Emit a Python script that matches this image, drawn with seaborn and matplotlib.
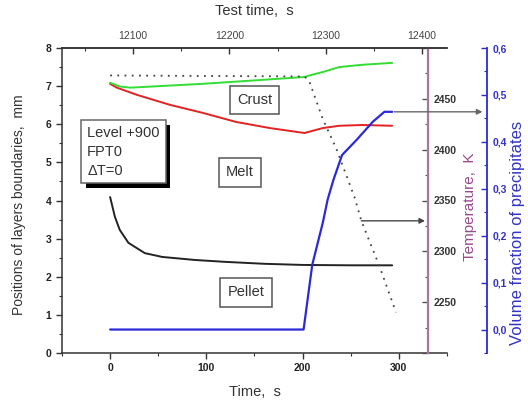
import matplotlib
matplotlib.use("Agg")
import matplotlib.pyplot as plt
import seaborn as sns
from matplotlib import patheffects
from matplotlib.ticker import MultipleLocator, FuncFormatter
from matplotlib.transforms import blended_transform_factory

# Pellet / melt boundary, mm
t_pellet = [0, 5, 10, 19, 36, 54, 88, 120, 160, 200, 250, 293]
y_pellet = [4.09, 3.57, 3.23, 2.89, 2.62, 2.52, 2.44, 2.39, 2.34, 2.31, 2.30, 2.30]

# Melt / crust boundary, mm
t_melt = [0, 7, 28, 62, 96, 131, 166, 202, 221, 238, 262, 293]
y_melt = [7.06, 6.96, 6.77, 6.51, 6.30, 6.06, 5.90, 5.77, 5.90, 5.96, 5.98, 5.96]

# Crust outer boundary, mm
t_crust = [0, 10, 21, 96, 150, 202, 210, 221, 238, 262, 293]
y_crust = [7.09, 6.99, 6.96, 7.06, 7.15, 7.24, 7.30, 7.37, 7.50, 7.56, 7.61]

# Temperature, K
t_temp = [0, 202, 207, 221, 235, 254, 261, 280, 297]
y_temp = [2473, 2472, 2467, 2430, 2401, 2353, 2330, 2285, 2240]

# Volume fraction of precipitates
t_frac = [0, 201, 210, 221, 226, 232, 241, 256, 273, 285, 293]
y_frac = [0.0, 0.0, 0.138, 0.228, 0.277, 0.319, 0.372, 0.404, 0.443, 0.464, 0.464]

time_offset = 12076  # test time at t = 0, s

sns.set_style("ticks")
plt.rcParams["font.family"] = ["Liberation Sans", "DejaVu Sans"]

PURPLE = "#9a4a8c"
PURPLE_SPINE = "#a877a0"
BLUE = "#2a2ad8"
BLUE_TXT = "#3434c4"

fig = plt.figure(figsize=(5.28, 4.0), dpi=100)
ax = fig.add_axes([0.1174, 0.1175, 0.7292, 0.7625])
axT = ax.twinx()
axV = ax.twinx()
axTop = ax.twiny()

line_kw = dict(estimator=None, sort=False, legend=False)
sns.lineplot(x=t_pellet, y=y_pellet, ax=ax, color="#222222", lw=1.4, **line_kw)
sns.lineplot(x=t_melt, y=y_melt, ax=ax, color="#e32222", lw=1.4, **line_kw)
sns.lineplot(x=t_crust, y=y_crust, ax=ax, color="#33dd33", lw=1.4, **line_kw)
sns.lineplot(x=t_temp, y=y_temp, ax=axT, color="#444444", lw=1.3,
             linestyle=(0, (1, 3)), **line_kw)
sns.lineplot(x=t_frac, y=y_frac, ax=axV, color=BLUE, lw=1.6, **line_kw)

# main axes
ax.set_xlim(-50, 350)
ax.set_ylim(0, 8)
ax.xaxis.set_major_locator(MultipleLocator(100))
ax.xaxis.set_minor_locator(MultipleLocator(50))
ax.yaxis.set_major_locator(MultipleLocator(1))
ax.yaxis.set_minor_locator(MultipleLocator(0.5))
ax.spines["right"].set_visible(False)
for s in ("left", "bottom", "top"):
    ax.spines[s].set_color("#333333")
    ax.spines[s].set_linewidth(1.1)
ax.tick_params(axis="both", which="major", direction="out", length=4,
               width=1, color="#333333", labelsize=7.5, labelcolor="#222222")
ax.tick_params(axis="both", which="minor", direction="out", length=2.5,
               width=0.8, color="#333333")
ax.tick_params(axis="x", top=False)
for lab in ax.get_xticklabels() + ax.get_yticklabels():
    lab.set_fontweight("bold")
ax.set_xlabel("Time,  s", fontsize=10.5, color="#333333")
ax.xaxis.set_label_coords(0.5, -0.105)
ax.xaxis.label.set_va("top")
ax.set_ylabel("Positions of layers boundaries,  mm", fontsize=10, color="#333333")
ax.yaxis.set_label_coords(-0.093, 0.485)

# top test-time axis
axTop.set_xlim(-50 + time_offset, 350 + time_offset)
axTop.xaxis.set_major_locator(MultipleLocator(100))
axTop.xaxis.set_minor_locator(MultipleLocator(50))
for s in ("left", "right", "bottom"):
    axTop.spines[s].set_visible(False)
axTop.spines["top"].set_color("#333333")
axTop.spines["top"].set_linewidth(1.1)
axTop.tick_params(axis="x", which="major", direction="in", length=4, width=1,
                  color="#333333", labelsize=7.5, labelcolor="#444444", pad=5)
axTop.tick_params(axis="x", which="minor", direction="in", length=2.5, width=0.8,
                  color="#333333")
axTop.tick_params(axis="y", left=False, right=False, labelleft=False, labelright=False)
axTop.set_xlabel("Test time,  s", fontsize=10.5, color="#333333")
axTop.xaxis.set_label_coords(0.5, 1.098)
axTop.xaxis.label.set_va("bottom")

# temperature axis
axT.set_ylim(2200, 2500)
axT.yaxis.set_major_locator(MultipleLocator(50))
axT.yaxis.set_minor_locator(MultipleLocator(25))
axT.yaxis.set_major_formatter(FuncFormatter(lambda v, _: "" if v in (2200, 2500) else f"{v:.0f}"))
for s in ("left", "top", "bottom"):
    axT.spines[s].set_visible(False)
axT.spines["right"].set_position(("axes", 0.9506))
axT.spines["right"].set_color(PURPLE_SPINE)
axT.spines["right"].set_linewidth(1.6)
axT.tick_params(axis="y", which="major", direction="in", length=4, width=1,
                color="#555555", labelsize=7.5, labelcolor="#333333", pad=4)
axT.tick_params(axis="y", which="minor", direction="in", length=2.5, width=0.8,
                color="#555555")
for lab in axT.get_yticklabels():
    lab.set_fontweight("bold")
axT.set_ylabel("Temperature,  K", fontsize=11, color=PURPLE)
axT.yaxis.set_label_coords(1.042, 0.48)

# volume fraction axis
axV.set_ylim(-0.05, 0.6)
axV.yaxis.set_major_locator(MultipleLocator(0.1))
axV.yaxis.set_minor_locator(MultipleLocator(0.05))
axV.yaxis.set_major_formatter(FuncFormatter(lambda v, _: f"{v:.1f}".replace(".", ",").replace("-0,0", "0,0")))
for s in ("left", "top", "bottom"):
    axV.spines[s].set_visible(False)
axV.spines["right"].set_position(("axes", 1.104))
axV.spines["right"].set_color(BLUE)
axV.spines["right"].set_linewidth(1.3)
axV.tick_params(axis="y", which="major", direction="in", length=4, width=1,
                color=BLUE, labelsize=7.5, labelcolor=BLUE_TXT, pad=4)
axV.tick_params(axis="y", which="minor", direction="in", length=2.5, width=0.8,
                color=BLUE)
for lab in axV.get_yticklabels():
    lab.set_fontweight("bold")
axV.set_ylabel("Volume fraction of precipitates", fontsize=12, color=BLUE_TXT)
axV.yaxis.set_label_coords(1.163, 0.395)

# layer labels
box = dict(boxstyle="square,pad=0.5", fc="white", ec="#555555", lw=1.1)
for txt, tx, ty in [("Crust", 150, 6.64), ("Melt", 135, 4.74), ("Pellet", 141, 1.59)]:
    ax.text(tx, ty, txt, ha="center", va="center", fontsize=10.5,
            color="#333333", bbox=box, zorder=5)

info = ax.text(-23.8, 5.28, "Level +900\nFPT0\nΔT=0", ha="left", va="center",
               fontsize=10.5, color="#333333", linespacing=1.45, zorder=6,
               bbox=dict(boxstyle="square,pad=0.4", fc="white", ec="#666666", lw=1.1))
info.get_bbox_patch().set_path_effects([
    patheffects.withSimplePatchShadow(offset=(3.5, -3.5), shadow_rgbFace="black", alpha=1.0),
])

# arrows to the right-hand scales
arrow_kw = dict(arrowstyle="-|>", color="#444444", lw=1.0, mutation_scale=8,
                shrinkA=0, shrinkB=0)
axV.annotate("", xy=(1.092, y_frac[-1]),
             xycoords=blended_transform_factory(ax.transAxes, axV.transData),
             xytext=(t_frac[-1] + 2, y_frac[-1]), textcoords=axV.transData,
             arrowprops=dict(arrow_kw, color="#666666"))
axT.annotate("", xy=(0.943, y_temp[6]),
             xycoords=blended_transform_factory(ax.transAxes, axT.transData),
             xytext=(t_temp[6], y_temp[6]), textcoords=axT.transData,
             arrowprops=arrow_kw)

fig.savefig("out.png", dpi=100)
